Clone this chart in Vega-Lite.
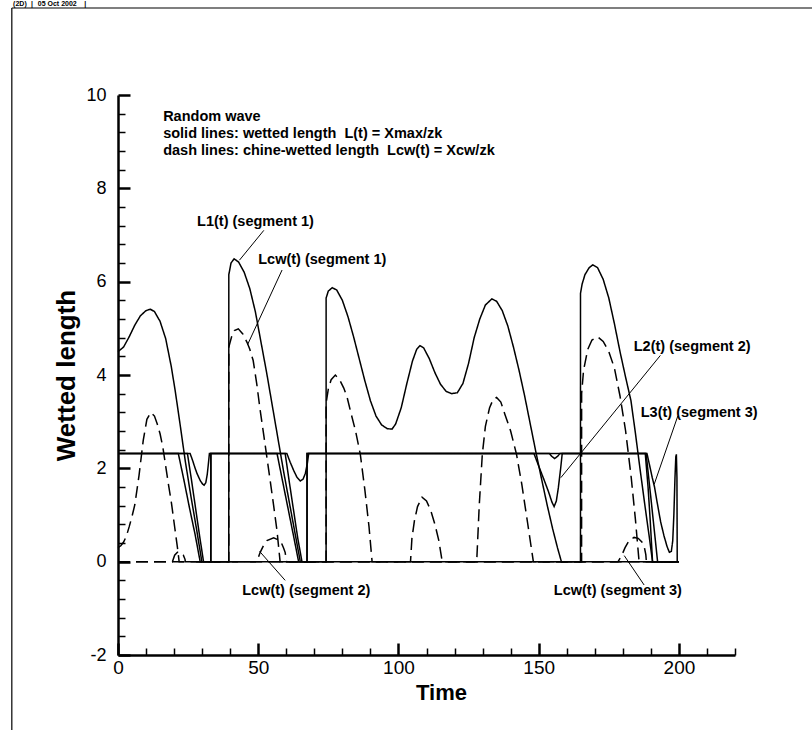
{
  "$schema": "https://vega.github.io/schema/vega-lite/v6.json",
  "width": 617,
  "height": 560,
  "autosize": "none",
  "padding": {"left": 118, "top": 95, "right": 77, "bottom": 75},
  "background": "white",
  "config": {"view": {"stroke": null}, "font": "Liberation Sans"},
  "datasets": {
    "curves": [
      {"s":"L1","d":"solid","t":0,"v":4.5},{"s":"L1","d":"solid","t":2,"v":4.6},{"s":"L1","d":"solid","t":4,"v":4.82},{"s":"L1","d":"solid","t":6,"v":5.07},{"s":"L1","d":"solid","t":8,"v":5.27},{"s":"L1","d":"solid","t":10,"v":5.38},{"s":"L1","d":"solid","t":11.5,"v":5.41},{"s":"L1","d":"solid","t":13,"v":5.36},{"s":"L1","d":"solid","t":15,"v":5.15},{"s":"L1","d":"solid","t":17,"v":4.78},{"s":"L1","d":"solid","t":19,"v":4.18},{"s":"L1","d":"solid","t":20.4,"v":3.66},{"s":"L1","d":"solid","t":22,"v":3.0},{"s":"L1","d":"solid","t":24,"v":2.15},{"s":"L1","d":"solid","t":26,"v":1.4},{"s":"L1","d":"solid","t":28,"v":0.7},{"s":"L1","d":"solid","t":29.9,"v":0},{"s":"L1","d":"solid","t":39.5,"v":0},{"s":"L1","d":"solid","t":39.51,"v":6.15},{"s":"L1","d":"solid","t":40.3,"v":6.4},{"s":"L1","d":"solid","t":41.4,"v":6.49},{"s":"L1","d":"solid","t":43,"v":6.42},{"s":"L1","d":"solid","t":45,"v":6.2},{"s":"L1","d":"solid","t":47,"v":5.85},{"s":"L1","d":"solid","t":49,"v":5.35},{"s":"L1","d":"solid","t":51,"v":4.7},{"s":"L1","d":"solid","t":53,"v":4.05},{"s":"L1","d":"solid","t":55,"v":3.35},{"s":"L1","d":"solid","t":57,"v":2.65},{"s":"L1","d":"solid","t":59,"v":1.95},{"s":"L1","d":"solid","t":61,"v":1.3},{"s":"L1","d":"solid","t":63,"v":0.65},{"s":"L1","d":"solid","t":65,"v":0},{"s":"L1","d":"solid","t":74.2,"v":0},{"s":"L1","d":"solid","t":74.21,"v":5.65},{"s":"L1","d":"solid","t":75,"v":5.8},{"s":"L1","d":"solid","t":76.4,"v":5.87},{"s":"L1","d":"solid","t":78,"v":5.82},{"s":"L1","d":"solid","t":80,"v":5.6},{"s":"L1","d":"solid","t":82,"v":5.25},{"s":"L1","d":"solid","t":84,"v":4.82},{"s":"L1","d":"solid","t":86,"v":4.35},{"s":"L1","d":"solid","t":88,"v":3.88},{"s":"L1","d":"solid","t":90,"v":3.45},{"s":"L1","d":"solid","t":92,"v":3.12},{"s":"L1","d":"solid","t":94,"v":2.93},{"s":"L1","d":"solid","t":96,"v":2.85},{"s":"L1","d":"solid","t":97.7,"v":2.84},{"s":"L1","d":"solid","t":99,"v":2.95},{"s":"L1","d":"solid","t":101,"v":3.3},{"s":"L1","d":"solid","t":103,"v":3.82},{"s":"L1","d":"solid","t":105,"v":4.3},{"s":"L1","d":"solid","t":106.5,"v":4.55},{"s":"L1","d":"solid","t":107.7,"v":4.63},{"s":"L1","d":"solid","t":109,"v":4.58},{"s":"L1","d":"solid","t":111,"v":4.35},{"s":"L1","d":"solid","t":113,"v":4.05},{"s":"L1","d":"solid","t":115,"v":3.8},{"s":"L1","d":"solid","t":117,"v":3.65},{"s":"L1","d":"solid","t":119,"v":3.6},{"s":"L1","d":"solid","t":121,"v":3.62},{"s":"L1","d":"solid","t":123,"v":3.82},{"s":"L1","d":"solid","t":125,"v":4.25},{"s":"L1","d":"solid","t":127,"v":4.8},{"s":"L1","d":"solid","t":129,"v":5.2},{"s":"L1","d":"solid","t":131,"v":5.5},{"s":"L1","d":"solid","t":133.3,"v":5.63},{"s":"L1","d":"solid","t":135,"v":5.58},{"s":"L1","d":"solid","t":137,"v":5.38},{"s":"L1","d":"solid","t":139,"v":5.05},{"s":"L1","d":"solid","t":141,"v":4.6},{"s":"L1","d":"solid","t":143,"v":4.1},{"s":"L1","d":"solid","t":145,"v":3.55},{"s":"L1","d":"solid","t":147,"v":2.95},{"s":"L1","d":"solid","t":149,"v":2.35},{"s":"L1","d":"solid","t":151,"v":1.78},{"s":"L1","d":"solid","t":153,"v":1.22},{"s":"L1","d":"solid","t":155,"v":0.7},{"s":"L1","d":"solid","t":156.7,"v":0.3},{"s":"L1","d":"solid","t":158.1,"v":0},{"s":"L1","d":"solid","t":164.9,"v":0},{"s":"L1","d":"solid","t":164.91,"v":5.75},{"s":"L1","d":"solid","t":165.5,"v":5.95},{"s":"L1","d":"solid","t":166.5,"v":6.15},{"s":"L1","d":"solid","t":168,"v":6.3},{"s":"L1","d":"solid","t":169.3,"v":6.36},{"s":"L1","d":"solid","t":171,"v":6.3},{"s":"L1","d":"solid","t":173,"v":6.05},{"s":"L1","d":"solid","t":175,"v":5.65},{"s":"L1","d":"solid","t":177,"v":5.1},{"s":"L1","d":"solid","t":179,"v":4.5},{"s":"L1","d":"solid","t":181,"v":3.95},{"s":"L1","d":"solid","t":182.9,"v":3.45},{"s":"L1","d":"solid","t":184.5,"v":2.75},{"s":"L1","d":"solid","t":186,"v":2.05},{"s":"L1","d":"solid","t":188,"v":1.15},{"s":"L1","d":"solid","t":189.5,"v":0.5},{"s":"L1","d":"solid","t":190.6,"v":0},{"s":"L1","d":"solid","t":200,"v":0},

      {"s":"L2","d":"solid","t":0,"v":2.32},{"s":"L2","d":"solid","t":25.7,"v":2.32},{"s":"L2","d":"solid","t":26.6,"v":2.17},{"s":"L2","d":"solid","t":27.4,"v":2.02},{"s":"L2","d":"solid","t":28.1,"v":1.9},{"s":"L2","d":"solid","t":29.3,"v":1.74},{"s":"L2","d":"solid","t":30.2,"v":1.66},{"s":"L2","d":"solid","t":30.7,"v":1.64},{"s":"L2","d":"solid","t":31.3,"v":1.69},{"s":"L2","d":"solid","t":31.8,"v":1.86},{"s":"L2","d":"solid","t":32.2,"v":2.08},{"s":"L2","d":"solid","t":32.6,"v":2.32},{"s":"L2","d":"solid","t":60.2,"v":2.32},{"s":"L2","d":"solid","t":61.4,"v":2.13},{"s":"L2","d":"solid","t":62.6,"v":1.96},{"s":"L2","d":"solid","t":63.8,"v":1.81},{"s":"L2","d":"solid","t":65,"v":1.73},{"s":"L2","d":"solid","t":66,"v":1.77},{"s":"L2","d":"solid","t":66.8,"v":1.89},{"s":"L2","d":"solid","t":67.5,"v":2.1},{"s":"L2","d":"solid","t":68,"v":2.32},{"s":"L2","d":"solid","t":148.3,"v":2.32},{"s":"L2","d":"solid","t":150,"v":2.05},{"s":"L2","d":"solid","t":152,"v":1.74},{"s":"L2","d":"solid","t":153.5,"v":1.5},{"s":"L2","d":"solid","t":154.7,"v":1.28},{"s":"L2","d":"solid","t":155.5,"v":1.18},{"s":"L2","d":"solid","t":156.3,"v":1.3},{"s":"L2","d":"solid","t":157,"v":1.58},{"s":"L2","d":"solid","t":157.8,"v":1.98},{"s":"L2","d":"solid","t":158.4,"v":2.32},{"s":"L2","d":"solid","t":188,"v":2.32},{"s":"L2","d":"solid","t":189,"v":1.6},{"s":"L2","d":"solid","t":189.8,"v":0.85},{"s":"L2","d":"solid","t":190.6,"v":0},{"s":"L2","d":"solid","t":200,"v":0},

      {"s":"P","d":"solid","t":0,"v":2.32},{"s":"P","d":"solid","t":21.5,"v":2.32},{"s":"P","d":"solid","t":23.5,"v":1.75},{"s":"P","d":"solid","t":25.5,"v":1.15},{"s":"P","d":"solid","t":27.5,"v":0.58},{"s":"P","d":"solid","t":29.3,"v":0},{"s":"P","d":"solid","t":200,"v":0},

      {"s":"Q","d":"solid","t":0,"v":2.32},{"s":"Q","d":"solid","t":24.75,"v":2.32},{"s":"Q","d":"solid","t":26.2,"v":1.75},{"s":"Q","d":"solid","t":27.6,"v":1.17},{"s":"Q","d":"solid","t":29.1,"v":0.55},{"s":"Q","d":"solid","t":30.5,"v":0},{"s":"Q","d":"solid","t":33.1,"v":0},{"s":"Q","d":"solid","t":33.11,"v":2.32},{"s":"Q","d":"solid","t":56.7,"v":2.32},{"s":"Q","d":"solid","t":58.7,"v":1.72},{"s":"Q","d":"solid","t":60.7,"v":1.12},{"s":"Q","d":"solid","t":62.6,"v":0.55},{"s":"Q","d":"solid","t":64.4,"v":0},{"s":"Q","d":"solid","t":67.4,"v":0},{"s":"Q","d":"solid","t":67.41,"v":2.32},{"s":"Q","d":"solid","t":153.8,"v":2.32},{"s":"Q","d":"solid","t":154.6,"v":2.26},{"s":"Q","d":"solid","t":155.7,"v":2.21},{"s":"Q","d":"solid","t":156.8,"v":2.26},{"s":"Q","d":"solid","t":157.6,"v":2.32},{"s":"Q","d":"solid","t":188.3,"v":2.32},{"s":"Q","d":"solid","t":190.3,"v":1.2},{"s":"Q","d":"solid","t":192.4,"v":0},{"s":"Q","d":"solid","t":200,"v":0},

      {"s":"R","d":"solid","t":33.1,"v":0},{"s":"R","d":"solid","t":33.11,"v":2.32},{"s":"R","d":"solid","t":59.6,"v":2.32},{"s":"R","d":"solid","t":61.1,"v":1.7},{"s":"R","d":"solid","t":62.6,"v":1.1},{"s":"R","d":"solid","t":64.1,"v":0.5},{"s":"R","d":"solid","t":65.6,"v":0},{"s":"R","d":"solid","t":67.4,"v":0},{"s":"R","d":"solid","t":67.41,"v":2.32},{"s":"R","d":"solid","t":188.6,"v":2.32},{"s":"R","d":"solid","t":189.6,"v":2.05},{"s":"R","d":"solid","t":190.5,"v":1.8},{"s":"R","d":"solid","t":191.3,"v":1.6},{"s":"R","d":"solid","t":192.3,"v":1.25},{"s":"R","d":"solid","t":193.5,"v":0.85},{"s":"R","d":"solid","t":194.7,"v":0.55},{"s":"R","d":"solid","t":195.8,"v":0.32},{"s":"R","d":"solid","t":196.6,"v":0.2},{"s":"R","d":"solid","t":197.3,"v":0.22},{"s":"R","d":"solid","t":197.8,"v":0.45},{"s":"R","d":"solid","t":198.2,"v":1.0},{"s":"R","d":"solid","t":198.6,"v":1.8},{"s":"R","d":"solid","t":198.9,"v":2.25},{"s":"R","d":"solid","t":199.1,"v":2.3},{"s":"R","d":"solid","t":199.3,"v":1.8},{"s":"R","d":"solid","t":199.4,"v":0},

      {"s":"C1","d":"dash","t":0,"v":0.3},{"s":"C1","d":"dash","t":1,"v":0.34},{"s":"C1","d":"dash","t":2,"v":0.42},{"s":"C1","d":"dash","t":3,"v":0.55},{"s":"C1","d":"dash","t":4,"v":0.75},{"s":"C1","d":"dash","t":5,"v":0.97},{"s":"C1","d":"dash","t":6,"v":1.22},{"s":"C1","d":"dash","t":7.5,"v":1.85},{"s":"C1","d":"dash","t":9,"v":2.6},{"s":"C1","d":"dash","t":10.3,"v":3.05},{"s":"C1","d":"dash","t":11.7,"v":3.2},{"s":"C1","d":"dash","t":13,"v":3.12},{"s":"C1","d":"dash","t":14,"v":2.95},{"s":"C1","d":"dash","t":15,"v":2.74},{"s":"C1","d":"dash","t":16,"v":2.45},{"s":"C1","d":"dash","t":17,"v":2.05},{"s":"C1","d":"dash","t":18,"v":1.65},{"s":"C1","d":"dash","t":19.1,"v":1.24},{"s":"C1","d":"dash","t":20.3,"v":0.7},{"s":"C1","d":"dash","t":21.2,"v":0.3},{"s":"C1","d":"dash","t":21.8,"v":0},{"s":"C1","d":"dash","t":39.5,"v":0},{"s":"C1","d":"dash","t":39.51,"v":4.6},{"s":"C1","d":"dash","t":40.5,"v":4.82},{"s":"C1","d":"dash","t":41.5,"v":4.95},{"s":"C1","d":"dash","t":42.9,"v":4.99},{"s":"C1","d":"dash","t":44.5,"v":4.88},{"s":"C1","d":"dash","t":46,"v":4.7},{"s":"C1","d":"dash","t":47,"v":4.55},{"s":"C1","d":"dash","t":48.2,"v":4.31},{"s":"C1","d":"dash","t":49.5,"v":3.8},{"s":"C1","d":"dash","t":50.7,"v":3.24},{"s":"C1","d":"dash","t":52,"v":2.7},{"s":"C1","d":"dash","t":54,"v":1.85},{"s":"C1","d":"dash","t":55.5,"v":1.2},{"s":"C1","d":"dash","t":56.7,"v":0.66},{"s":"C1","d":"dash","t":57.8,"v":0},{"s":"C1","d":"dash","t":74.2,"v":0},{"s":"C1","d":"dash","t":74.21,"v":3.4},{"s":"C1","d":"dash","t":75,"v":3.7},{"s":"C1","d":"dash","t":76,"v":3.9},{"s":"C1","d":"dash","t":77.5,"v":4.0},{"s":"C1","d":"dash","t":79,"v":3.9},{"s":"C1","d":"dash","t":80.5,"v":3.72},{"s":"C1","d":"dash","t":81.7,"v":3.52},{"s":"C1","d":"dash","t":83,"v":3.2},{"s":"C1","d":"dash","t":84.7,"v":2.8},{"s":"C1","d":"dash","t":86.4,"v":2.3},{"s":"C1","d":"dash","t":88,"v":1.55},{"s":"C1","d":"dash","t":89.5,"v":0.75},{"s":"C1","d":"dash","t":90.6,"v":0},{"s":"C1","d":"dash","t":104.3,"v":0},{"s":"C1","d":"dash","t":104.8,"v":0.5},{"s":"C1","d":"dash","t":105.7,"v":0.88},{"s":"C1","d":"dash","t":106.8,"v":1.18},{"s":"C1","d":"dash","t":108.4,"v":1.38},{"s":"C1","d":"dash","t":110,"v":1.3},{"s":"C1","d":"dash","t":111.5,"v":1.1},{"s":"C1","d":"dash","t":113,"v":0.8},{"s":"C1","d":"dash","t":114.4,"v":0.45},{"s":"C1","d":"dash","t":115.6,"v":0},{"s":"C1","d":"dash","t":127.9,"v":0},{"s":"C1","d":"dash","t":128.8,"v":1.2},{"s":"C1","d":"dash","t":129.9,"v":2.3},{"s":"C1","d":"dash","t":131,"v":2.9},{"s":"C1","d":"dash","t":132.5,"v":3.3},{"s":"C1","d":"dash","t":133.8,"v":3.48},{"s":"C1","d":"dash","t":135,"v":3.52},{"s":"C1","d":"dash","t":136.5,"v":3.42},{"s":"C1","d":"dash","t":138,"v":3.15},{"s":"C1","d":"dash","t":140,"v":2.8},{"s":"C1","d":"dash","t":142.1,"v":2.3},{"s":"C1","d":"dash","t":144,"v":1.65},{"s":"C1","d":"dash","t":146,"v":0.85},{"s":"C1","d":"dash","t":148.1,"v":0},{"s":"C1","d":"dash","t":165.3,"v":0},{"s":"C1","d":"dash","t":165.31,"v":3.6},{"s":"C1","d":"dash","t":166,"v":4.1},{"s":"C1","d":"dash","t":167.5,"v":4.55},{"s":"C1","d":"dash","t":169,"v":4.75},{"s":"C1","d":"dash","t":171,"v":4.82},{"s":"C1","d":"dash","t":173,"v":4.72},{"s":"C1","d":"dash","t":175,"v":4.5},{"s":"C1","d":"dash","t":177,"v":4.15},{"s":"C1","d":"dash","t":179,"v":3.55},{"s":"C1","d":"dash","t":181,"v":2.8},{"s":"C1","d":"dash","t":183,"v":1.8},{"s":"C1","d":"dash","t":184.5,"v":0.9},{"s":"C1","d":"dash","t":185.8,"v":0},{"s":"C1","d":"dash","t":200,"v":0},

      {"s":"C2","d":"dash","t":0,"v":0},{"s":"C2","d":"dash","t":49.5,"v":0},{"s":"C2","d":"dash","t":50.7,"v":0.2},{"s":"C2","d":"dash","t":52,"v":0.36},{"s":"C2","d":"dash","t":53.1,"v":0.45},{"s":"C2","d":"dash","t":55.5,"v":0.51},{"s":"C2","d":"dash","t":57.9,"v":0.45},{"s":"C2","d":"dash","t":59,"v":0.3},{"s":"C2","d":"dash","t":59.6,"v":0.2},{"s":"C2","d":"dash","t":60.1,"v":0},{"s":"C2","d":"dash","t":200,"v":0},

      {"s":"C3","d":"dash","t":0,"v":0},{"s":"C3","d":"dash","t":19.4,"v":0},{"s":"C3","d":"dash","t":20.2,"v":0.14},{"s":"C3","d":"dash","t":21.2,"v":0.2},{"s":"C3","d":"dash","t":22.3,"v":0.2},{"s":"C3","d":"dash","t":23.3,"v":0.14},{"s":"C3","d":"dash","t":23.9,"v":0.05},{"s":"C3","d":"dash","t":24,"v":0},{"s":"C3","d":"dash","t":178.3,"v":0},{"s":"C3","d":"dash","t":179.5,"v":0.12},{"s":"C3","d":"dash","t":180.8,"v":0.3},{"s":"C3","d":"dash","t":182.3,"v":0.46},{"s":"C3","d":"dash","t":184,"v":0.52},{"s":"C3","d":"dash","t":185.5,"v":0.5},{"s":"C3","d":"dash","t":186.8,"v":0.42},{"s":"C3","d":"dash","t":187.6,"v":0.33},{"s":"C3","d":"dash","t":188.2,"v":0.15},{"s":"C3","d":"dash","t":188.4,"v":0},{"s":"C3","d":"dash","t":200,"v":0}
    ],
    "labels": [
      {"txt":"Random wave","t":16.1,"v":9.52},
      {"txt":"solid lines: wetted length\u00a0 L(t) = Xmax/zk","t":16.1,"v":9.16},
      {"txt":"dash lines: chine-wetted length\u00a0 Lcw(t) = Xcw/zk","t":16.1,"v":8.79},
      {"txt":"L1(t) (segment 1)","t":28.2,"v":7.28},
      {"txt":"Lcw(t) (segment 1)","t":50.0,"v":6.47},
      {"txt":"L2(t) (segment 2)","t":183.9,"v":4.6},
      {"txt":"L3(t) (segment 3)","t":186.4,"v":3.19},
      {"txt":"Lcw(t) (segment 2)","t":44.3,"v":-0.63},
      {"txt":"Lcw(t) (segment 3)","t":155.4,"v":-0.63}
    ],
    "pointers": [
      {"t":52.0,"v":7.1,"t2":43.3,"v2":6.46},
      {"t":58.5,"v":6.25,"t2":46.2,"v2":4.65},
      {"t":193.4,"v":4.42,"t2":157.9,"v2":1.8},
      {"t":199.6,"v":3.12,"t2":191.2,"v2":1.66},
      {"t":59.6,"v":-0.4,"t2":50.5,"v2":0.22},
      {"t":187.6,"v":-0.5,"t2":180.5,"v2":0.13}
    ],
    "frame": [
      {"t":-37.86,"v":11.864,"t2":247.9,"v2":11.864},
      {"t":-37.86,"v":11.864,"t2":-37.86,"v2":-3.61}
    ],
    "header": [
      {"txt":"(2D)","t":-37.4,"v":11.96},
      {"txt":"|","t":-31.0,"v":11.96},
      {"txt":"05 Oct 2002","t":-28.6,"v":11.96},
      {"txt":"|","t":-12.0,"v":11.96}
    ]
  },
  "layer": [
    {
      "data": {"name": "curves"},
      "mark": {"type": "line", "strokeWidth": 1.5, "color": "black", "interpolate": "linear"},
      "encoding": {
        "x": {
          "field": "t", "type": "quantitative",
          "scale": {"domain": [0, 220], "nice": false, "zero": false},
          "axis": {
            "values": [0,10,20,30,40,50,60,70,80,90,100,110,120,130,140,150,160,170,180,190,200,210,220],
            "tickCount": 100,
            "labelExpr": "datum.value % 50 === 0 ? '' + datum.value : ''",
            "tickSize": {"condition": {"test": "datum.value % 50 === 0", "value": -12}, "value": -7},
            "tickWidth": {"condition": {"test": "datum.value % 50 === 0", "value": 2.5}, "value": 1.5},
            "tickColor": "black", "domainColor": "black", "domainWidth": 2.5,
            "labelFont": "Liberation Sans", "labelFontSize": 19, "labelColor": "black",
            "labelPadding": 15, "labelOverlap": false, "labelFlush": false,
            "grid": false,
            "title": "Time", "titleFont": "Liberation Sans", "titleFontSize": 22, "titleFontWeight": "bold", "titleColor": "black", "titlePadding": 0, "titleX": 323
          }
        },
        "y": {
          "field": "v", "type": "quantitative",
          "scale": {"domain": [-2, 10], "nice": false, "zero": false},
          "axis": {
            "values": [-2,-1.6,-1.2,-0.8,-0.4,0,0.4,0.8,1.2,1.6,2,2.4,2.8,3.2,3.6,4,4.4,4.8,5.2,5.6,6,6.4,6.8,7.2,7.6,8,8.4,8.8,9.2,9.6,10],
            "tickCount": 100,
            "labelExpr": "datum.value % 2 === 0 ? '' + datum.value : ''",
            "tickSize": {"condition": {"test": "datum.value % 2 === 0", "value": -12}, "value": -7},
            "tickWidth": {"condition": {"test": "datum.value % 2 === 0", "value": 2.5}, "value": 1.5},
            "tickColor": "black", "domainColor": "black", "domainWidth": 2.5,
            "labelFont": "Liberation Sans", "labelFontSize": 18, "labelColor": "black",
            "labelPadding": 24, "labelOverlap": false, "labelFlush": false,
            "grid": false,
            "title": "Wetted length", "titleFont": "Liberation Sans", "titleFontSize": 26, "titleFontWeight": "bold", "titleColor": "black", "titlePadding": 6
          }
        },
        "detail": {"field": "s"},
        "strokeDash": {"field": "d", "type": "nominal", "scale": {"domain": ["solid", "dash"], "range": [[1, 0], [12, 6]]}, "legend": null}
      }
    },
    {
      "data": {"name": "pointers"},
      "mark": {"type": "rule", "color": "black", "strokeWidth": 1},
      "encoding": {
        "x": {"field": "t", "type": "quantitative"},
        "y": {"field": "v", "type": "quantitative"},
        "x2": {"field": "t2"},
        "y2": {"field": "v2"}
      }
    },
    {
      "data": {"name": "frame"},
      "mark": {"type": "rule", "color": "black", "strokeWidth": 1.2},
      "encoding": {
        "x": {"field": "t", "type": "quantitative"},
        "y": {"field": "v", "type": "quantitative"},
        "x2": {"field": "t2"},
        "y2": {"field": "v2"}
      }
    },
    {
      "data": {"name": "labels"},
      "mark": {"type": "text", "align": "left", "baseline": "middle", "font": "Liberation Sans", "fontWeight": "bold", "fontSize": 14.5, "color": "black"},
      "encoding": {
        "x": {"field": "t", "type": "quantitative"},
        "y": {"field": "v", "type": "quantitative"},
        "text": {"field": "txt"}
      }
    },
    {
      "data": {"name": "header"},
      "mark": {"type": "text", "align": "left", "baseline": "middle", "font": "Liberation Sans", "fontWeight": "bold", "fontSize": 7, "color": "black"},
      "encoding": {
        "x": {"field": "t", "type": "quantitative"},
        "y": {"field": "v", "type": "quantitative"},
        "text": {"field": "txt"}
      }
    }
  ]
}
